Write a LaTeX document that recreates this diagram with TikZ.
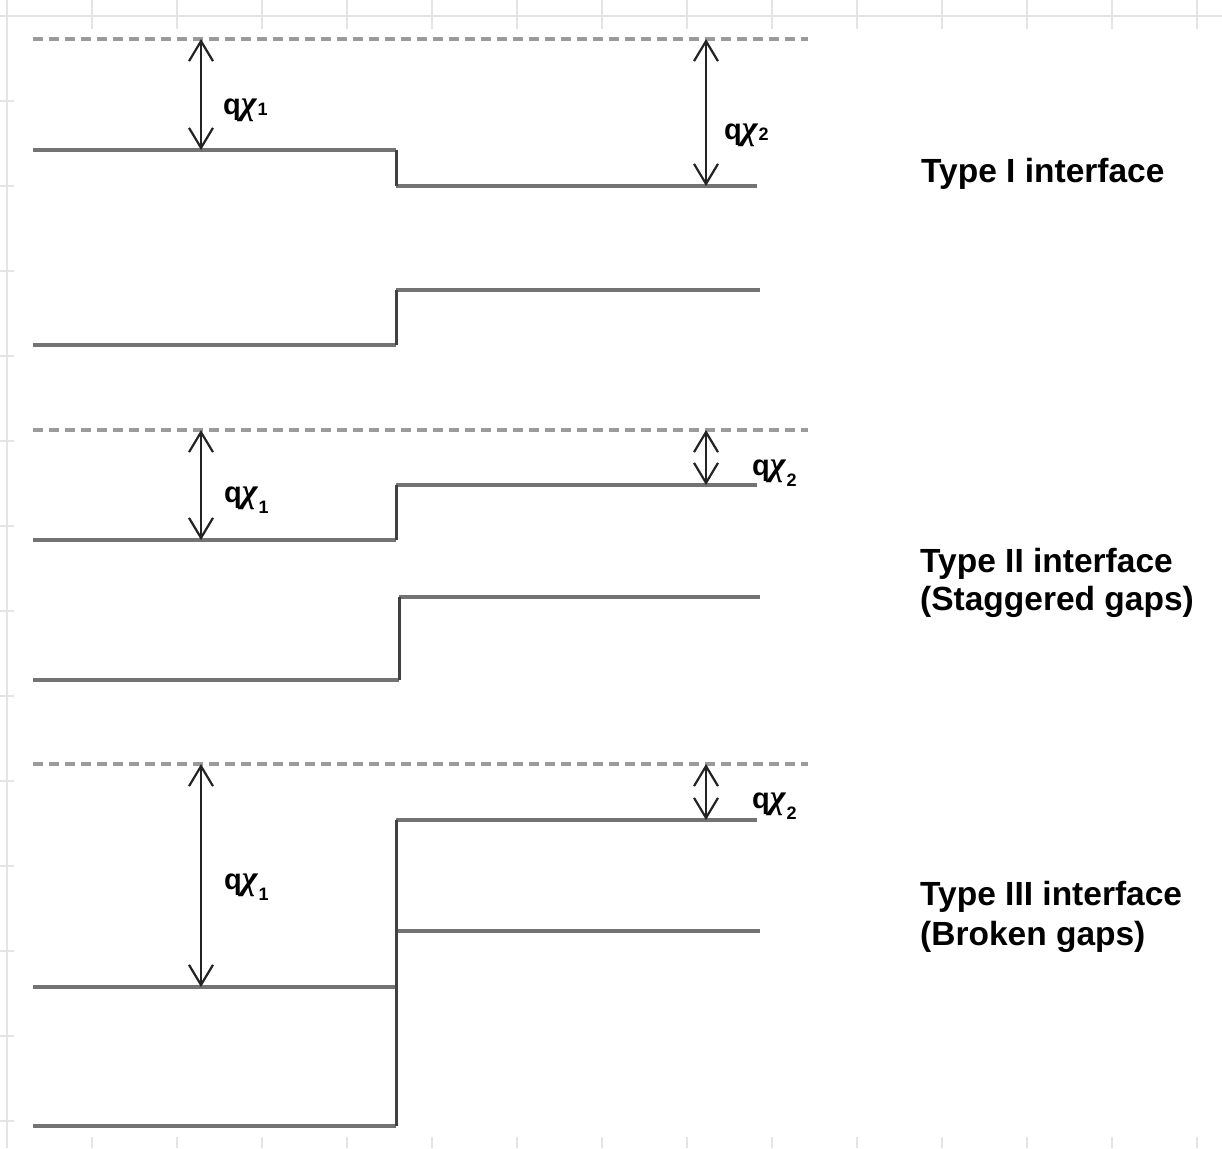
\documentclass[tikz,border=0pt]{standalone}
\usepackage{fontspec}
\setmainfont{Liberation Sans}
\newfontfamily\grkfont{Liberation Serif}
\usetikzlibrary{arrows.meta}
\definecolor{gridc}{RGB}{228,228,228}
\definecolor{hband}{RGB}{115,115,115}
\definecolor{vband}{RGB}{65,65,65}
\definecolor{dashc}{RGB}{155,155,155}
\definecolor{arrc}{RGB}{35,35,35}
\newcommand{\qchi}[2]{q{\grkfont\bfseries\itshape\fontsize{34}{34}\selectfont χ}\hspace{1pt}\raisebox{#2}{\fontsize{18}{18}\selectfont #1}}
\begin{document}
\begin{tikzpicture}[x=1pt,y=-1pt,
  gridline/.style={draw=gridc,line width=2pt},
  band/.style={draw=hband,line width=3.5pt},
  bandstep/.style={draw=vband,line width=3pt},
  vacuum/.style={draw=dashc,line width=3.5pt,dash pattern=on 10pt off 6pt},
  dimarrow/.style={draw=arrc,line width=2.2pt,{Straight Barb[length=20pt,width=24pt]}-{Straight Barb[length=20pt,width=24pt]}},
  chilabel/.style={inner sep=0pt,anchor=base west,font=\bfseries\fontsize{29}{32}\selectfont},
  typelabel/.style={inner sep=0pt,anchor=base west,font=\bfseries\fontsize{33.5}{38}\selectfont}]
\useasboundingbox (0,0) rectangle (1222,1148);
\fill[white] (0,0) rectangle (1222,1148);
% background grid
\draw[gridline] (0,16) -- (1222,16);
\draw[gridline] (7,0) -- (7,1148);
\foreach \x in {92,177,...,1197} {
  \draw[gridline] (\x,0) -- (\x,29);
  \draw[gridline] (\x,1137) -- (\x,1148);
}
\foreach \y in {101,186,...,1121} \draw[gridline] (0,\y) -- (14,\y);

% ---------- Type I ----------
\draw[vacuum] (33,39) -- (808,39);
\draw[band] (33,150) -- (396,150);
\draw[band] (396,186) -- (757,186);
\draw[bandstep] (396,150) -- (396,186);
\draw[band] (33,345) -- (396,345);
\draw[band] (396,290) -- (760,290);
\draw[bandstep] (396,345) -- (396,290);
\coordinate (v1a) at (201,39);
\coordinate (c1a) at (201,150);
\coordinate (v1b) at (706,39);
\coordinate (c1b) at (706,186);
\draw[dimarrow] (v1a) -- (c1a);
\draw[dimarrow] (v1b) -- (c1b);
\node[chilabel] (l1a) at (223,114) {\qchi{1}{-0.05em}};
\node[chilabel] (l1b) at (724,139) {\qchi{2}{-0.05em}};
\node[typelabel] (t1) at (921,182) {Type I interface};

% ---------- Type II ----------
\draw[vacuum] (33,430) -- (808,430);
\draw[band] (33,540) -- (396,540);
\draw[band] (396,485) -- (757,485);
\draw[bandstep] (396,540) -- (396,485);
\draw[band] (33,680) -- (399,680);
\draw[band] (399,597) -- (760,597);
\draw[bandstep] (399,680) -- (399,597);
\coordinate (v2a) at (201,430);
\coordinate (c2a) at (201,540);
\coordinate (v2b) at (706,430);
\coordinate (c2b) at (706,485);
\draw[dimarrow] (v2a) -- (c2a);
\draw[dimarrow] (v2b) -- (c2b);
\node[chilabel] (l2a) at (224,502) {\qchi{1}{-0.4em}};
\node[chilabel] (l2b) at (752,475) {\qchi{2}{-0.4em}};
\node[typelabel] (t2a) at (920,572) {Type II interface};
\node[typelabel] (t2b) at (920,610) {(Staggered gaps)};

% ---------- Type III ----------
\draw[vacuum] (33,764) -- (808,764);
\draw[band] (33,987) -- (396,987);
\draw[band] (396,820) -- (757,820);
\draw[band] (33,1126) -- (396,1126);
\draw[band] (396,931) -- (760,931);
\draw[bandstep] (396,1126) -- (396,820);
\coordinate (v3a) at (201,764);
\coordinate (c3a) at (201,987);
\coordinate (v3b) at (706,764);
\coordinate (c3b) at (706,820);
\draw[dimarrow] (v3a) -- (c3a);
\draw[dimarrow] (v3b) -- (c3b);
\node[chilabel] (l3a) at (224,889) {\qchi{1}{-0.4em}};
\node[chilabel] (l3b) at (752,808) {\qchi{2}{-0.4em}};
\node[typelabel] (t3a) at (920,905) {Type III interface};
\node[typelabel] (t3b) at (920,945) {(Broken gaps)};
\end{tikzpicture}
\end{document}
